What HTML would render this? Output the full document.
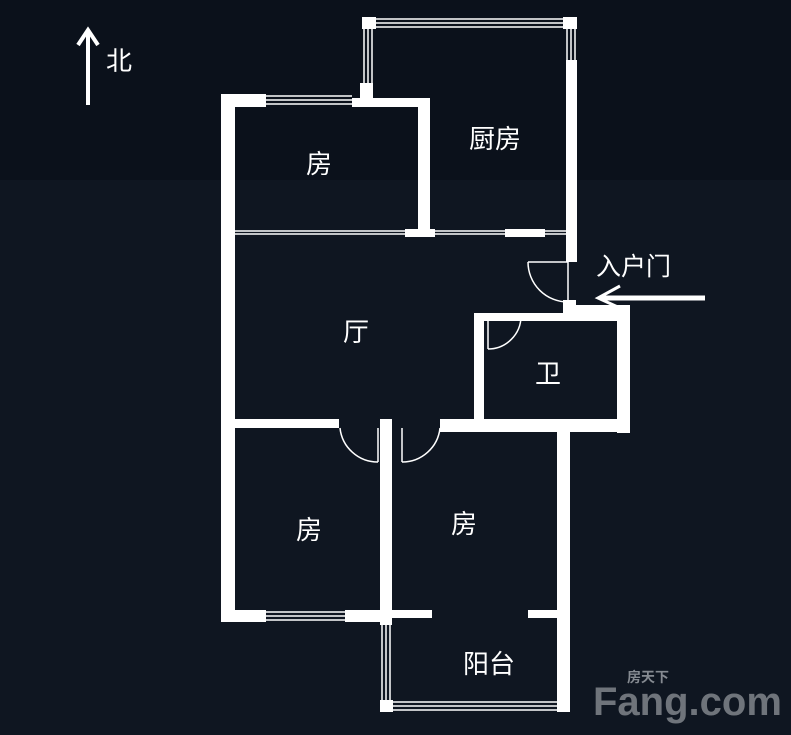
<!DOCTYPE html>
<html><head><meta charset="utf-8"><style>
html,body{margin:0;padding:0;background:#0b111b;}
svg{display:block}
text{font-family:"Liberation Sans","Noto Sans CJK SC",sans-serif;fill:#fff;}
</style></head><body>
<svg width="791" height="735" viewBox="0 0 791 735">
<rect width="791" height="735" fill="#0b111b"/>
<rect x="0" y="180" width="791" height="555" fill="#131c28" opacity="0.5"/>
<g fill="#fff">
<rect x="221" y="94" width="14" height="527"/>
<rect x="221" y="94" width="45" height="13"/>
<rect x="352" y="98" width="78" height="9"/>
<rect x="360" y="83" width="13" height="22"/>
<rect x="418" y="100" width="12" height="136"/>
<rect x="362" y="17" width="14" height="12"/>
<rect x="563" y="17" width="14" height="12"/>
<rect x="566" y="60" width="11" height="202"/>
<rect x="405" y="229" width="30" height="8"/>
<rect x="505" y="229" width="40" height="8"/>
<rect x="563" y="300" width="13" height="15"/>
<rect x="474" y="313" width="156" height="8"/>
<rect x="474" y="313" width="10" height="114"/>
<rect x="617" y="305" width="13" height="128"/>
<rect x="576" y="305" width="54" height="10"/>
<rect x="235" y="419" width="104" height="9"/>
<rect x="380" y="419" width="12" height="9"/>
<rect x="440" y="419" width="190" height="13"/>
<rect x="380" y="420" width="12" height="205"/>
<rect x="221" y="610" width="45" height="12"/>
<rect x="345" y="610" width="47" height="12"/>
<rect x="557" y="428" width="13" height="284"/>
<rect x="392" y="610" width="40" height="8"/>
<rect x="528" y="610" width="30" height="8"/>
<rect x="380" y="700" width="13" height="12"/>
</g>
<g stroke="#fff" stroke-width="1.5" fill="none">
<path d="M266 96h86M266 100h86M266 104h86"/>
<path d="M364 29v54M368 29v54M372 29v54"/>
<path d="M376 19h187M376 23h187M376 27h187"/>
<path d="M567 29v31M571 29v31M575 29v31"/>
<path d="M235 231h170M235 234h170M435 231h70M435 234h70M545 231h21M545 234h21"/>
<path d="M266 612h79M266 616h79M266 620h79"/>
<path d="M382 625v75M386 625v75M390 625v75"/>
<path d="M393 702h164M393 706h164M393 710h164"/>
<path d="M568 262v40M528 262h40M528 262 A40 40 0 0 0 568 302"/>
<path d="M488 315v34M488 349 A33 33 0 0 0 521 316"/>
<path d="M378 428v34M378 462 A38 38 0 0 1 340 428"/>
<path d="M402 428v34M402 462 A38 38 0 0 0 440 428"/>
</g>
<path d="M600 298H705" stroke="#fff" stroke-width="5"/>
<path d="M620 286L598 298L620 308" stroke="#fff" stroke-width="3" fill="none"/>
<text x="596" y="275" font-size="25">入户门</text>
<path d="M88 33V105M78 45L88 30L98 45" stroke="#fff" stroke-width="4" fill="none"/>
<text x="106" y="70" font-size="26">北</text>
<g font-size="26">
<text x="306" y="173">房</text>
<text x="469" y="148">厨房</text>
<text x="343" y="341">厅</text>
<text x="535" y="383">卫</text>
<text x="296" y="539">房</text>
<text x="451" y="533">房</text>
<text x="463" y="673">阳台</text>
</g>
<text x="593" y="715" font-size="40" font-weight="bold" style="fill:#6f747b">Fang.com</text>
<text x="627" y="682" font-size="14" font-weight="bold" style="fill:#858a91">房天下</text>
</svg>
</body></html>
